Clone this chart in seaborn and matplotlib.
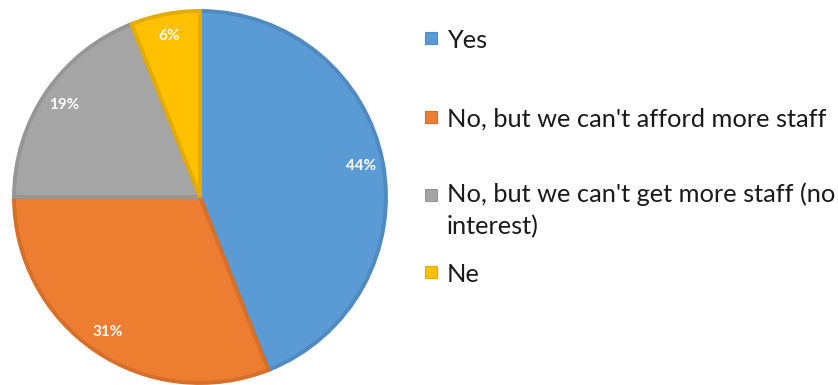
import matplotlib
matplotlib.use("Agg")
import matplotlib.pyplot as plt
from matplotlib.patches import Rectangle
import seaborn as sns

# Survey answers and their shares (%)
categories = [
    "Yes",
    "No, but we can't afford more staff",
    "No, but we can't get more staff (no\ninterest)",
    "Ne",
]
shares = [44, 31, 19, 6]
fill_colors = ["#5B9BD5", "#ED7D31", "#A5A5A5", "#FFC000"]
edge_colors = ["#4F8AC0", "#D66F2A", "#969696", "#E5AC00"]

sns.set_theme(style="white")
plt.rcParams["font.family"] = ["Lato", "DejaVu Sans"]

W, H = 838, 385
fig = plt.figure(figsize=(W / 100, H / 100), dpi=100)
fig.patch.set_facecolor("white")

# Pie occupies a square on the left side
cx, cy, r = 200, 197, 186
ax = fig.add_axes([(cx - r) / W, (H - cy - r) / H, 2 * r / W, 2 * r / H])
wedges, _, autotexts = ax.pie(
    shares,
    colors=fill_colors,
    startangle=90,
    counterclock=False,
    autopct=lambda p: f"{p:.0f}%",
    pctdistance=0.88,
    textprops=dict(color="white", fontsize=11, fontweight="bold"),
    wedgeprops=dict(linewidth=2.8, joinstyle="miter"),
)
for w, ec in zip(wedges, edge_colors):
    w.set_edgecolor(ec)
    w.set_clip_on(False)
ax.set_xlim(-1, 1)
ax.set_ylim(-1, 1)
ax.set_aspect("equal")
ax.axis("off")

# Legend on the right: square marker plus label
legend_rows_y = [38, 117, 195, 272]
legend_fs = 18.3
for label, color, ec, y in zip(categories, fill_colors, edge_colors, legend_rows_y):
    fig.add_artist(Rectangle((425 / W, (H - y - 6) / H), 12 / W, 12 / H,
                             facecolor=color, edgecolor=ec, linewidth=0.8,
                             transform=fig.transFigure))
    if "\n" in label:
        fig.text(447 / W, (H - y + 13) / H, label, fontsize=legend_fs,
                 color="#1a1a1a", va="top", ha="left", linespacing=1.5)
    else:
        fig.text(447 / W, (H - y) / H, label, fontsize=legend_fs,
                 color="#1a1a1a", va="center_baseline", ha="left")

fig.savefig("out.png", dpi=100, facecolor="white")
